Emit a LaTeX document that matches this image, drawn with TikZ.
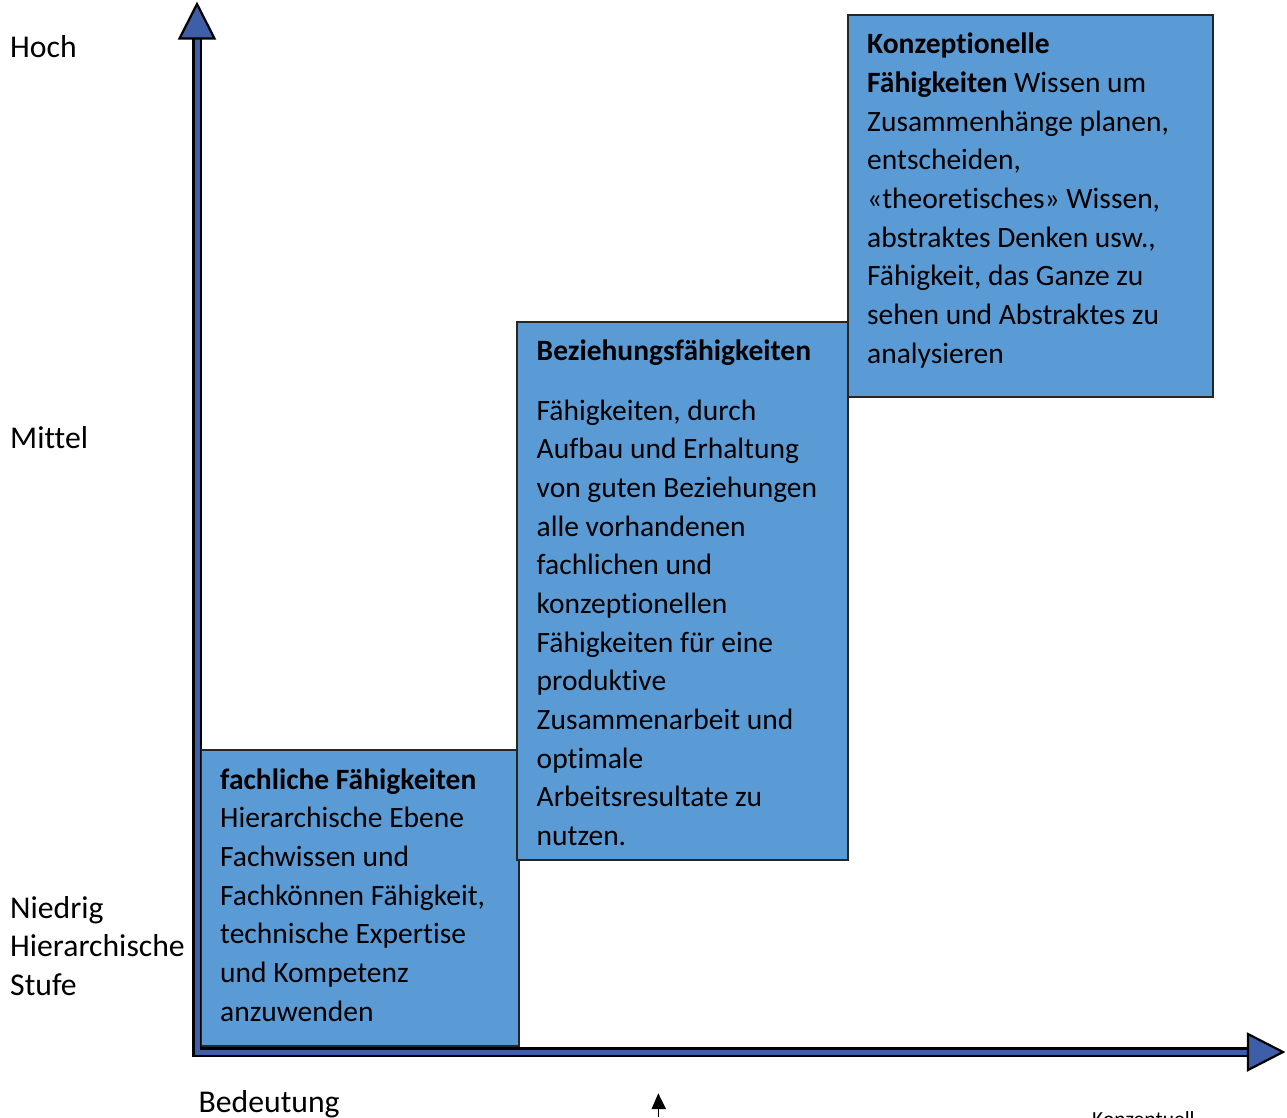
\documentclass[tikz,border=0pt]{standalone}
\usepackage{fontspec}
\setmainfont{Carlito}[Ligatures={NoCommon}]
\definecolor{boxblue}{HTML}{5B9BD5}
\definecolor{axisblue}{RGB}{62,94,168}
% strut that fixes the height of the first line of a text block
\newcommand{\firstline}{\rule{0pt}{27pt}}
\begin{document}
\begin{tikzpicture}[x=1pt,y=-1pt,
  txt/.style={anchor=north west, inner sep=0pt, align=left,
              font=\fontsize{31.7}{38.65}\selectfont},
  boxtxt/.style={txt, font=\fontsize{29.5}{38.65}\selectfont},
  skill/.style={draw=black!85, line width=1.3pt, fill=boxblue,
                anchor=north west, inner sep=0pt, outer sep=0pt},
  shaftout/.style={draw=black, line width=9.5pt, line join=miter},
  shaftin/.style={draw=axisblue, line width=5pt, line join=miter},
  axishead/.style={fill=axisblue, draw=black, line width=2.2pt, line join=miter}]
\useasboundingbox (0,0) rectangle (1287,1117);
\clip (0,0) rectangle (1287,1117);

% axes
\coordinate (origin) at (197,1052);
\coordinate (ytop) at (197,36);
\coordinate (xend) at (1250,1052);
\draw[shaftout] (xend) -- (origin) -- (ytop);
\draw[shaftin] (xend) -- (origin) -- (ytop);
\filldraw[axishead] (197,4) -- (214.5,38.5) -- (179.5,38.5) -- cycle;
\filldraw[axishead] (1283,1052) -- (1248,1070) -- (1248,1034) -- cycle;

% skill boxes, one per level
\node[skill, minimum width=317.5pt, minimum height=296pt] (fach) at (201.5,750) {};
\node[skill, minimum width=331pt, minimum height=538pt] (bez) at (517,322) {};
\node[skill, minimum width=365pt, minimum height=382pt] (konz) at (848,15) {};

% box texts
\node[boxtxt] (konztext) at (867,26.6) {\firstline\textbf{Konzeptionelle}\\
  \textbf{Fähigkeiten} Wissen um\\ Zusammenhänge planen,\\ entscheiden,\\
  «theoretisches» Wissen,\\ abstraktes Denken usw.,\\ Fähigkeit, das Ganze zu\\
  sehen und Abstraktes zu\\ analysieren};
\node[boxtxt] (beztitle) at (536.5,333) {\firstline\textbf{Beziehungsfähigkeiten}};
\node[boxtxt] (beztext) at (536.5,393) {\firstline Fähigkeiten, durch\\ Aufbau und Erhaltung\\
  von guten Beziehungen\\ alle vorhandenen\\ fachlichen und\\ konzeptionellen\\
  Fähigkeiten für eine\\ produktive\\ Zusammenarbeit und\\ optimale\\
  Arbeitsresultate zu\\ nutzen.};
\node[boxtxt] (fachtext) at (220,762) {\firstline\textbf{fachliche Fähigkeiten}\\
  Hierarchische Ebene\\ Fachwissen und\\ Fachkönnen Fähigkeit,\\
  technische Expertise\\ und Kompetenz\\ anzuwenden};

% axis labels
\node[txt] (hoch) at (10,30.3) {\firstline Hoch};
\node[txt] (mittel) at (10,421) {\firstline Mittel};
\node[txt] (niedrig) at (10,891) {\firstline Niedrig\\ Hierarchische\\ Stufe};
\node[txt] (bedeutung) at (198.5,1085) {\firstline Bedeutung};
\node[anchor=base west, inner sep=0pt, font=\fontsize{21.5}{26}\selectfont]
  (konzlabel) at (1092,1126.5) {Konzeptuell};

% small marker arrow
\coordinate (markfoot) at (658.3,1117);
\coordinate (markbase) at (658.3,1108);
\draw[line width=1.5pt] (markfoot) -- (markbase);
\fill (658.3,1093.3) -- (666,1109) -- (651.5,1109) -- cycle;
\end{tikzpicture}
\end{document}
